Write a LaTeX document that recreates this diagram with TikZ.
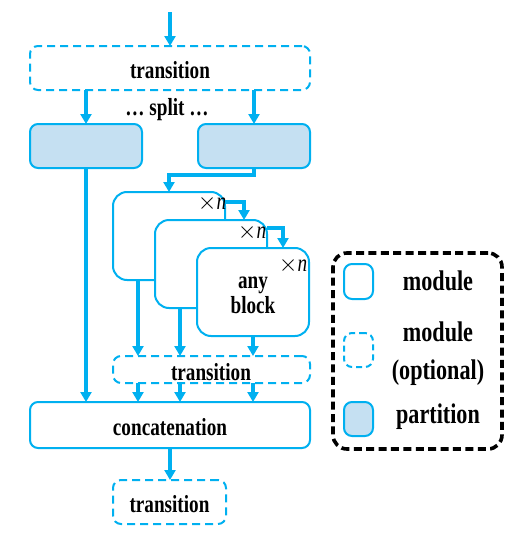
\documentclass[tikz,border=0pt]{standalone}
\usepackage{fontspec}
\setmainfont{Liberation Serif}[FakeStretch=0.78]
\usetikzlibrary{arrows.meta,calc}
\definecolor{lblue}{RGB}{0,176,240}
\definecolor{pfill}{RGB}{197,224,242}
\tikzset{
  every node/.style={inner sep=0pt, outer sep=0pt},
  txt/.style={font=\fontsize{12.3}{12.5}\selectfont\bfseries, align=center},
  ltxt/.style={font=\fontsize{14.2}{15}\selectfont\bfseries, align=center},
  modbox/.style={draw=lblue, line width=1pt, rounded corners=4pt, fill=white},
  optbox/.style={modbox, dash pattern=on 4pt off 2.5pt},
  partbox/.style={modbox, fill=pfill},
  blkbox/.style={modbox, rounded corners=7pt, minimum width=56pt, minimum height=44pt},
  arr/.style={draw=lblue, line width=1.8pt, -{Triangle[width=5.5pt,length=5pt]}},
  arrl/.style={draw=lblue, line width=1.8pt},
  legbox/.style={draw=black, line width=1.8pt, dash pattern=on 4pt off 2.2pt, rounded corners=7pt},
  nlab/.style={font=\fontsize{12.3}{12.5}\selectfont}
}
\begin{document}
\begin{tikzpicture}[x=0.5pt,y=-0.5pt]
\useasboundingbox (0,0) rectangle (520,546);
% top
\coordinate (start) at (170,12);
\node[optbox, minimum width=140pt, minimum height=22pt] (t1) at (170,68) {};
\node[txt] (t1txt) at (170,70) {transition};
\node[txt] (split) at (167,110) {… split …};
\node[partbox, minimum width=56pt, minimum height=22pt] (pL) at (86,146) {};
\node[partbox, minimum width=56pt, minimum height=22pt] (pR) at (254,146) {};
% modules
\node[blkbox] (m1) at (169,236) {};
\node[blkbox] (m2) at (211,264) {};
\node[blkbox] (m3) at (253,292) {};
\node[txt] (anyblock) at (253,295) {any\\block};
\node[nlab] (n1) at ($(m1.north east)+(-13,11)$) {$\times$\textit{n}};
\node[nlab] (n2) at ($(m2.north east)+(-15,12)$) {$\times$\textit{n}};
\node[nlab] (n3) at ($(m3.north east)+(-16,17)$) {$\times$\textit{n}};
% middle transition
\node[optbox, minimum width=98.5pt, minimum height=13.5pt] (mt) at (211.5,369.5) {};
\node[txt] (mttxt) at (211,372) {transition};
% concatenation
\node[modbox, minimum width=140pt, minimum height=23pt] (cc) at (170,425) {};
\node[txt] (cctxt) at (170,427) {concatenation};
% final transition
\node[optbox, minimum width=56.5pt, minimum height=22pt] (fin) at (169.5,502) {};
\node[txt] (fintxt) at (169.5,504) {transition};
% arrows
\draw[arr] (start) -- (t1.north -| start);
\draw[arr] (t1.south -| pL) -- (pL.north);
\draw[arr] (t1.south -| pR) -- (pR.north);
\draw[arr] (pL.south) -- (pL.south |- cc.north);
\draw[arr] (pR.south) -- ++(0,7) -| (m1.north);
\draw[arr] ($(m1.north east)+(0,10)$) -| ($(m2.north west)+(89,0)$);
\draw[arr] ($(m2.north east)+(0,8)$) -| ($(m3.north west)+(86,0)$);
\coordinate (c1) at ($(m1.south west)+(25,0)$);
\coordinate (c2) at ($(m2.south west)+(25,0)$);
\coordinate (c3) at (m3.south);
\draw[arr] (c1) -- (c1 |- mt.north);
\draw[arr] (c2) -- (c2 |- mt.north);
\draw[arr] (c3) -- (c3 |- mt.north);
\draw[arr] (mt.south -| c1) -- (cc.north -| c1);
\draw[arr] (mt.south -| c2) -- (cc.north -| c2);
\draw[arr] (mt.south -| c3) -- (cc.north -| c3);
\draw[arr] (cc.south) -- (cc.south |- fin.north);
% legend
\node[legbox, minimum width=84.5pt, minimum height=98pt] (leg) at (417.5,351) {};
\node[modbox, minimum width=14.5pt, minimum height=17.5pt] (lmod) at (358.5,281.5) {};
\node[optbox, dash pattern=on 3pt off 2pt, minimum width=14.5pt, minimum height=17pt] (lopt) at (358.5,350) {};
\node[partbox, minimum width=14.5pt, minimum height=17pt] (lpart) at (358.5,419) {};
\node[ltxt] (lmodt) at (438,281) {module};
\node[ltxt] (loptt) at (438,354) {module\\[4pt](optional)};
\node[ltxt] (lpartt) at (438,417) {partition};
\end{tikzpicture}
\end{document}
